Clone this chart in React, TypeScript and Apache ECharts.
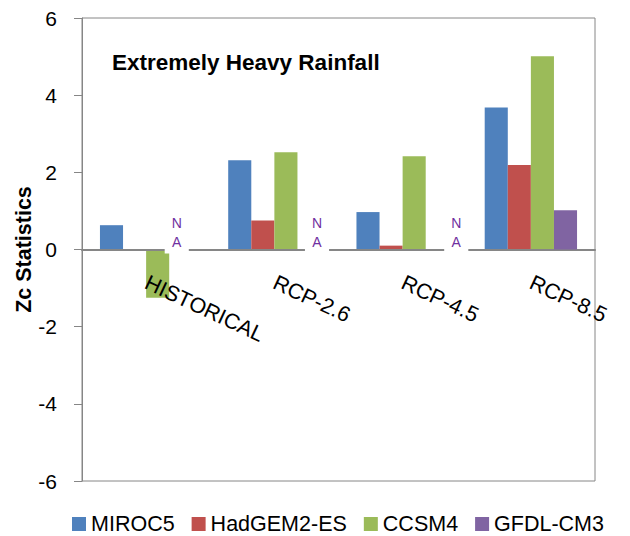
import React, { useEffect, useRef } from "react";
import * as echarts from "echarts";

const categories = ["HISTORICAL", "RCP-2.6", "RCP-4.5", "RCP-8.5"];
const seriesNames = ["MIROC5", "HadGEM2-ES", "CCSM4", "GFDL-CM3"];
const miroc5 = [0.63, 2.31, 0.97, 3.68];
const hadgem2 = [null, 0.75, 0.1, 2.19];
const ccsm4 = [-1.25, 2.52, 2.42, 5.01];
const gfdl = [null, null, null, 1.02];
const gfdlNotAvailable = [true, true, true, false];
const yTicks = { min: -6, max: 6, interval: 2 };

const colors = ["#4F81BD", "#C0504D", "#9BBB59", "#8064A2"];
const FONT = "'Liberation Sans', Arial, sans-serif";
const naShift = [-4, 8, 19];

const GRID = { left: 82, right: 35, top: 18, bottom: 55 };
const CHART_H = 536;

export default function App() {
  const ref = useRef<HTMLDivElement>(null);
  useEffect(() => {
    if (!ref.current) return;
    const chart = echarts.init(ref.current, undefined, { renderer: "svg" });
    const plotH = CHART_H - GRID.top - GRID.bottom;
    const zeroFrac = (0 - yTicks.min) / (yTicks.max - yTicks.min);
    const gfdlData = gfdl.map((v, i) =>
      gfdlNotAvailable[i]
        ? {
            value: 0,
            label: {
              show: true,
              formatter: "N\nA",
              position: "top",
              distance: -4,
              offset: [naShift[i] ?? 0, 0],
              fontSize: 14,
              lineHeight: 19,
              color: "#7030A0",
              fontFamily: FONT,
              backgroundColor: "#ffffff",
              padding: [2, 7, 2, 7],
            },
          }
        : v
    );
    const mk = (name: string, data: any[], color: string, z = 2) => ({
      name,
      type: "bar",
      data,
      z,
      barGap: "0%",
      barCategoryGap: "28%",
      itemStyle: { color },
    });
    chart.setOption({
      animation: false,
      textStyle: { fontFamily: FONT },
      color: colors,
      title: {
        text: "Extremely Heavy Rainfall",
        left: 112,
        top: 51,
        padding: 0,
        textStyle: { fontFamily: FONT, fontSize: 22.5, fontWeight: "bold", color: "#000" },
      },
      grid: {
        ...GRID,
        containLabel: false,
        outerBoundsMode: "none",
        show: true,
        borderColor: "#868686",
        borderWidth: 1,
        backgroundColor: "transparent",
      },
      legend: {
        data: seriesNames,
        left: 67,
        top: 508,
        icon: "rect",
        itemWidth: 14,
        itemHeight: 14,
        itemGap: 17,
        textStyle: { fontFamily: FONT, fontSize: 21.5, lineHeight: 20, color: "#000" },
      },
      xAxis: {
        type: "category",
        data: categories,
        position: "bottom",
        offset: -plotH * zeroFrac,
        z: 5,
        axisLine: { onZero: false, lineStyle: { color: "#868686", width: 2 } },
        axisTick: { show: false },
        axisLabel: {
          interval: 0,
          rotate: -25,
          margin: 32,
          fontSize: 21.5,
          color: "#000",
          fontFamily: FONT,
        },
      },
      yAxis: {
        type: "value",
        min: yTicks.min,
        max: yTicks.max,
        interval: yTicks.interval,
        name: "Zc Statistics",
        nameLocation: "middle",
        nameGap: 47,
        nameMoveOverlap: false,
        nameTextStyle: { fontFamily: FONT, fontSize: 21.5, fontWeight: "bold", color: "#000" },
        axisLine: { show: true, lineStyle: { color: "#868686", width: 1 } },
        axisTick: { show: true, length: 8, lineStyle: { color: "#868686" } },
        splitLine: { show: false },
        axisLabel: { fontSize: 21, color: "#000", margin: 25, fontFamily: FONT },
      },
      series: [
        mk(seriesNames[0], miroc5, colors[0]),
        mk(seriesNames[1], hadgem2, colors[1]),
        mk(seriesNames[2], ccsm4, colors[2]),
        mk(seriesNames[3], gfdlData, colors[3], 6),
      ],
    });
    return () => chart.dispose();
  }, []);
  return <div ref={ref} style={{ width: 630, height: CHART_H, position: "absolute", left: 0, top: 0 }} />;
}
